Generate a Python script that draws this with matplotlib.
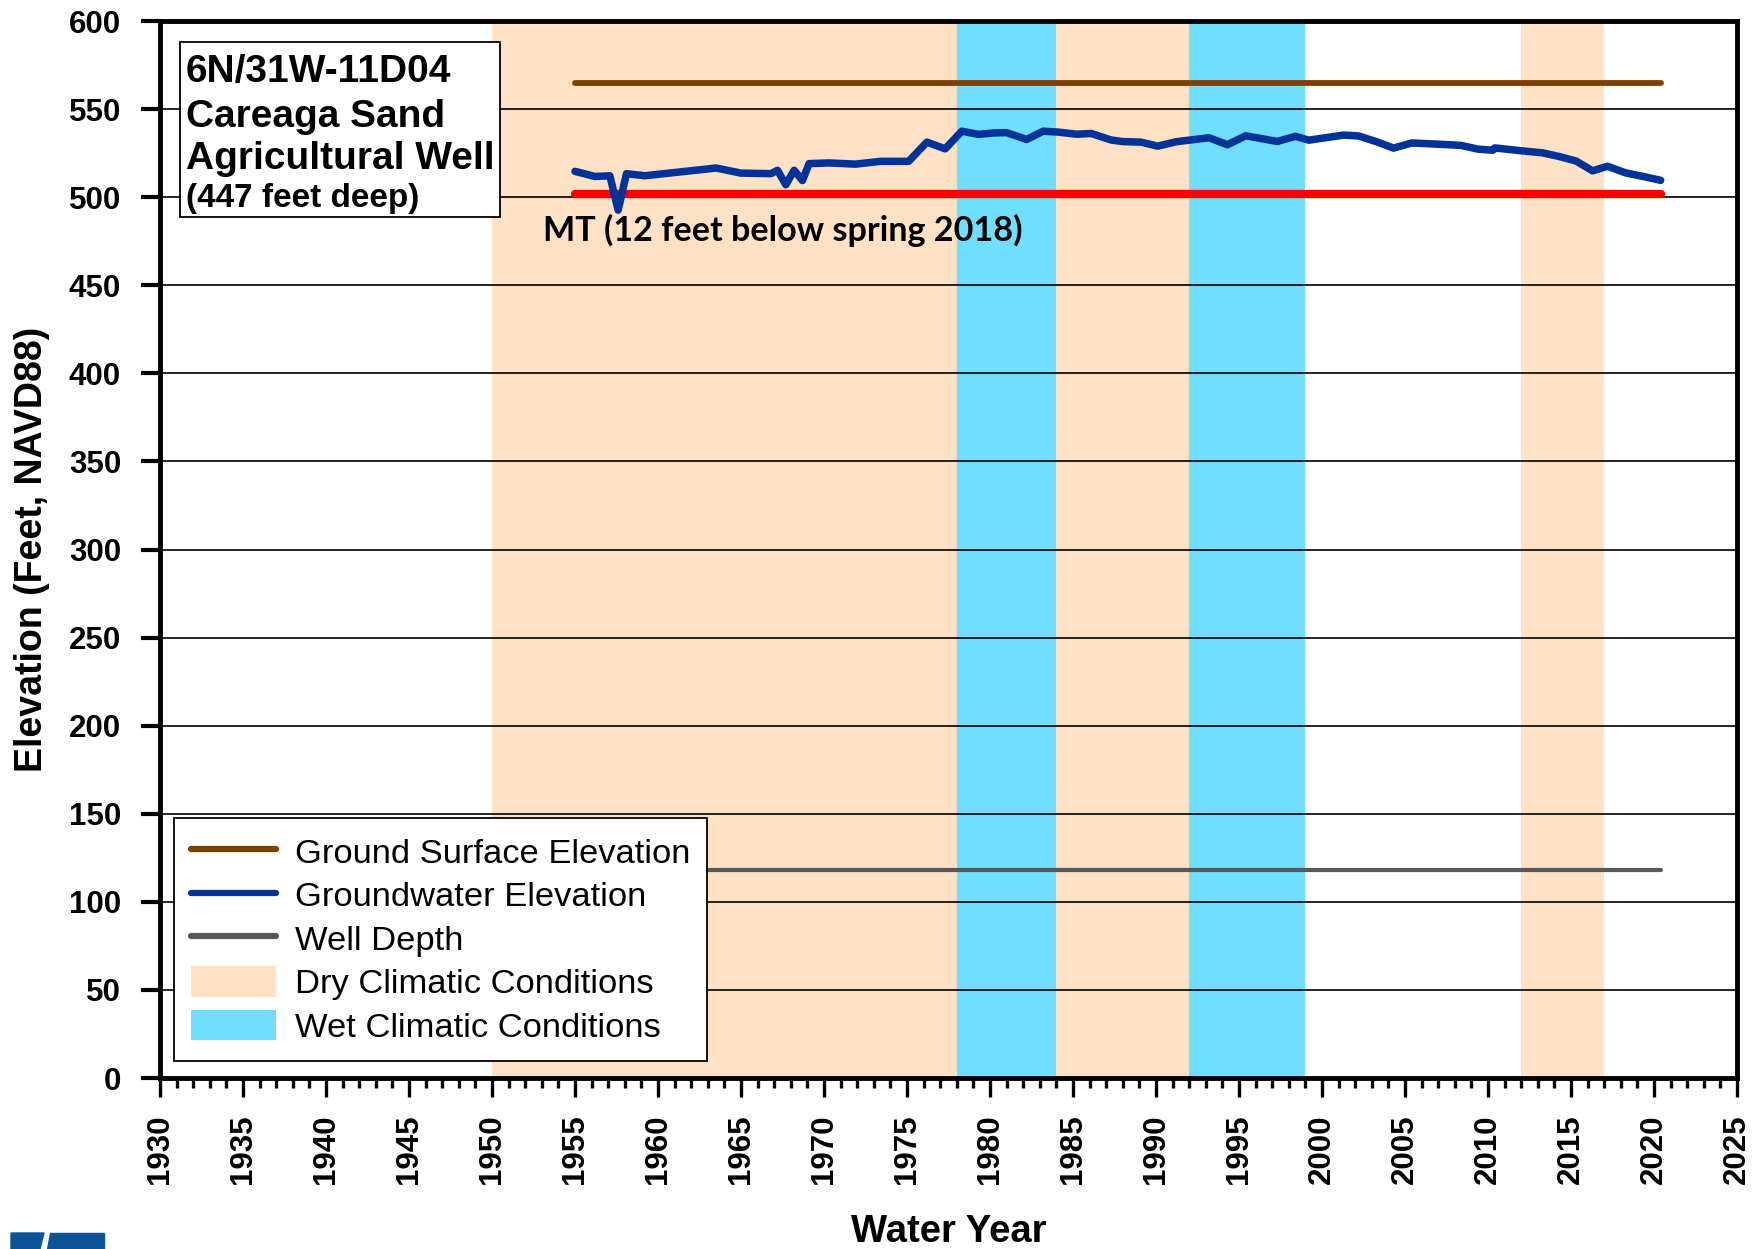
import matplotlib
matplotlib.use("Agg")
import matplotlib.pyplot as plt
from matplotlib.patches import Rectangle, Polygon, Patch
from matplotlib.lines import Line2D
from matplotlib.ticker import MultipleLocator

# ---- data ----
gw_year = [1955.0, 1956.2, 1957.1, 1957.6, 1958.1, 1959.2, 1963.5, 1965.0, 1966.8,
           1967.2, 1967.7, 1968.2, 1968.7, 1969.1, 1970.3, 1971.9, 1973.4, 1975.1,
           1976.2, 1977.3, 1978.3, 1979.3, 1980.2, 1981.0, 1982.2, 1983.2, 1984.1,
           1985.2, 1986.1, 1987.3, 1988.0, 1989.1, 1990.1, 1991.2, 1993.2, 1994.3,
           1995.4, 1997.3, 1998.4, 1999.2, 2001.3, 2002.2, 2003.3, 2004.3, 2005.4,
           2007.3, 2008.4, 2009.4, 2010.3, 2010.4, 2012.1, 2013.3, 2014.3, 2015.3,
           2016.3, 2017.2, 2018.3, 2019.3, 2020.4]
gw_elev = [514.7, 511.8, 512.2, 492.7, 513.4, 512.2, 516.6, 513.7, 513.4,
           515.3, 507.1, 515.3, 509.5, 519.1, 519.5, 518.8, 520.4, 520.4,
           531.3, 527.5, 537.5, 535.7, 536.5, 536.7, 532.8, 537.5, 537.0,
           535.8, 536.2, 532.5, 531.6, 531.3, 529.0, 531.5, 533.8, 529.8,
           534.9, 531.7, 534.6, 532.4, 535.3, 534.8, 531.5, 527.9, 530.8,
           530.0, 529.4, 527.3, 526.7, 528.0, 526.3, 525.2, 523.1, 520.6,
           515.0, 517.6, 513.8, 511.9, 509.6]

record_start, record_end = 1955.0, 2020.4
ground_surface = 565
well_depth_elev = 118
mt_elev = 502

dry_periods = [(1950, 1978), (1984, 1992), (2012, 2017)]
wet_periods = [(1978, 1984), (1992, 1999)]

well_id = "6N/31W-11D04"
well_name = ["Careaga Sand", "Agricultural Well"]
well_depth_text = "(447 feet deep)"
mt_text = "MT (12 feet below spring 2018)"

# ---- styling ----
BROWN = "#7F3F00"
BLUE = "#003399"
RED = "#FF0000"
GRAY = "#595959"
DRY = "#FFE2C6"
WET = "#70DEFF"
FONT = "Liberation Sans"

fig = plt.figure(figsize=(17.64, 12.49), dpi=100)
ax = fig.add_axes([0.0907, 0.1369, 0.894, 0.8462])

for a, b in dry_periods:
    ax.axvspan(a, b, color=DRY, lw=0, zorder=0)
for a, b in wet_periods:
    ax.axvspan(a, b, color=WET, lw=0, zorder=0)

for yv in range(50, 600, 50):
    ax.axhline(yv, color="black", lw=1.2, zorder=1)

ax.plot([record_start, record_end], [ground_surface] * 2, color=BROWN, lw=4.2,
        solid_capstyle="round", zorder=3)
ax.plot([record_start, record_end], [mt_elev] * 2, color=RED, lw=6.0,
        solid_capstyle="round", zorder=3)
ax.plot([record_start, record_end], [well_depth_elev] * 2, color=GRAY, lw=3.0,
        solid_capstyle="round", zorder=3)
ax.plot(gw_year, gw_elev, color=BLUE, lw=5.4, solid_capstyle="round",
        solid_joinstyle="round", zorder=4)

ax.set_xlim(1930, 2025)
ax.set_ylim(0, 600)
ax.xaxis.set_major_locator(MultipleLocator(5))
ax.xaxis.set_minor_locator(MultipleLocator(1))
ax.yaxis.set_major_locator(MultipleLocator(50))

for s in ax.spines.values():
    s.set_linewidth(3.5)
    s.set_zorder(6)

ax.tick_params(axis="x", which="major", direction="out", length=14, width=2.4,
               pad=12, labelsize=22.5, labelrotation=90)
ax.tick_params(axis="x", which="minor", direction="out", length=7, width=2.4)
ax.tick_params(axis="y", which="major", direction="out", length=14, width=3,
               pad=14, labelsize=22.5)
for lab in ax.get_xticklabels() + ax.get_yticklabels():
    lab.set_fontfamily(FONT)
    lab.set_fontweight("bold")

ax.set_xlabel("Water Year", fontsize=27.5, fontweight="bold", family=FONT)
ax.xaxis.set_label_coords(0.5, -0.129)
ax.set_ylabel("Elevation (Feet, NAVD88)", fontsize=27, fontweight="bold", family=FONT)
ax.yaxis.set_label_coords(-0.070, 0.5)

# well identification box
ax.add_patch(Rectangle((0.0127, 0.8146), 0.203, 0.1656, transform=ax.transAxes,
                       facecolor="white", edgecolor="black", lw=1.3, zorder=7))
ax.text(0.0165, 0.9423, well_id, transform=ax.transAxes, fontsize=28,
        fontweight="bold", family=FONT, va="baseline", zorder=8)
ax.text(0.0165, 0.8997, well_name[0], transform=ax.transAxes, fontsize=28,
        fontweight="bold", family=FONT, va="baseline", zorder=8)
ax.text(0.0165, 0.8600, well_name[1], transform=ax.transAxes, fontsize=28,
        fontweight="bold", family=FONT, va="baseline", zorder=8)
ax.text(0.0165, 0.8240, well_depth_text, transform=ax.transAxes, fontsize=24,
        fontweight="bold", family=FONT, va="baseline", zorder=8)

ax.text(1953.1, 475, mt_text, fontsize=24.6, fontweight="bold", family="Lato",
        va="baseline", zorder=8)

handles = [
    Line2D([], [], color=BROWN, lw=4.5, solid_capstyle="round"),
    Line2D([], [], color=BLUE, lw=4.5, solid_capstyle="round"),
    Line2D([], [], color=GRAY, lw=4.5, solid_capstyle="round"),
    Patch(facecolor=DRY, edgecolor="none"),
    Patch(facecolor=WET, edgecolor="none"),
]
labels = ["Ground Surface Elevation", "Groundwater Elevation", "Well Depth",
          "Dry Climatic Conditions", "Wet Climatic Conditions"]
leg = ax.legend(handles, labels, loc="lower left", bbox_to_anchor=(0.0089, 0.016),
                prop={"family": FONT, "size": 24.8}, frameon=True, fancybox=False,
                edgecolor="black", framealpha=1, borderpad=0.5, labelspacing=0.27,
                handlelength=2.45, handleheight=1.0, handletextpad=0.55,
                borderaxespad=0)
leg.get_frame().set_linewidth(1.3)
leg.set_zorder(9)

# corner logo fragment
fig.add_artist(Polygon([(11 / 1764, 16 / 1249), (44 / 1764, 16 / 1249),
                        (40 / 1764, 0), (11 / 1764, 0)],
                       closed=True, transform=fig.transFigure, color="#0B5596"))
fig.add_artist(Polygon([(50 / 1764, 16 / 1249), (104 / 1764, 16 / 1249),
                        (104 / 1764, 0), (46.5 / 1764, 0)],
                       closed=True, transform=fig.transFigure, color="#0B5596"))

fig.savefig("out.png", dpi=100)
